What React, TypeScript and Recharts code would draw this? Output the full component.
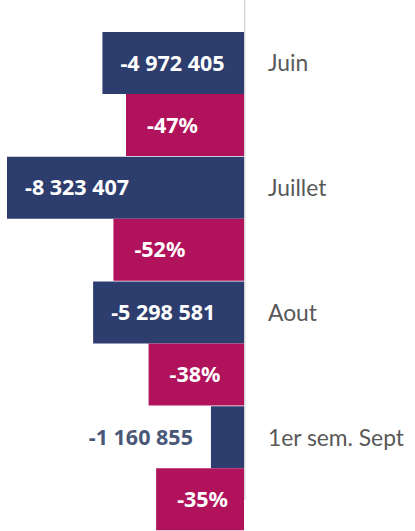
import React from 'react'
import { BarChart, Bar, XAxis, YAxis, ReferenceLine } from 'recharts'

const months: string[] = ['Juin', 'Juillet', 'Aout', '1er sem. Sept']
const ecart: number[] = [-4972405, -8323407, -5298581, -1160855]
const ecartPct: number[] = [-47, -52, -38, -35]

const data = months.map((name, i) => ({ name, ecart: ecart[i], pct: ecartPct[i] }))

const BLUE = '#2d3e6e'
const PINK = '#b0125b'
const FONT = 'Lato, "Noto Sans", sans-serif'
const VALUE_FONT = '"Noto Sans", Lato, sans-serif'

const fmt = (v: number) =>
    (v < 0 ? '-' : '') + Math.abs(v).toString().replace(/\B(?=(\d{3})+(?!\d))/g, ' ')

const makeLabel = (kind: 'abs' | 'pct') => (props: any) => {
    const { x, y, width, height, value } = props
    const left = Math.min(x, x + width)
    const w = Math.abs(width)
    const cy = y + height / 2
    const text = kind === 'abs' ? fmt(value) : `${value}%`
    const inside = w > 80
    const pad = kind === 'abs' ? 18 : 21
    return (
        <text
            x={inside ? left + pad : left - 18}
            y={cy}
            dy="0.36em"
            textAnchor={inside ? 'start' : 'end'}
            fill={inside ? '#ffffff' : '#4a5878'}
            fontFamily={VALUE_FONT}
            fontWeight={700}
            fontSize={21.5}
        >
            {text}
        </text>
    )
}

const CategoryTick = (props: any) => {
    const { x, y, payload } = props
    return (
        <text x={x} y={y - 31} dy="0.35em" textAnchor="start" fill="#595959" fontFamily={FONT} fontSize={22.8}>
            {payload.value}
        </text>
    )
}

const ZeroLine = (props: any) => {
    const { x1, x2 } = props
    return <line x1={x1 + 0.75} x2={x2 + 0.75} y1={0} y2={500} stroke="#d9d9d9" strokeWidth={1.5} />
}

const App = () => {
    return (
        <div style={{ position: 'absolute', top: 0, left: 0, width: 415, height: 531, background: '#fff' }}>
            <BarChart
                width={415}
                height={531}
                data={data}
                layout="vertical"
                barCategoryGap={0}
                barGap={0}
                margin={{ top: 32, right: 0, left: 7, bottom: 0 }}
            >
                <XAxis xAxisId="abs" type="number" domain={[-8323407, 0]} hide />
                <XAxis xAxisId="pct" type="number" domain={[-94.4, 0]} hide />
                <YAxis
                    yAxisId={0}
                    type="category"
                    dataKey="name"
                    orientation="right"
                    width={171}
                    axisLine={false}
                    tickLine={false}
                    tickSize={0}
                    tickMargin={24}
                    tick={<CategoryTick />}
                />
                <Bar dataKey="ecart" xAxisId="abs" fill={BLUE} isAnimationActive={false} label={makeLabel('abs')} />
                <Bar dataKey="pct" xAxisId="pct" fill={PINK} isAnimationActive={false} label={makeLabel('pct')} />
                <ReferenceLine xAxisId="abs" x={0} shape={<ZeroLine />} ifOverflow="visible" />
            </BarChart>
        </div>
    )
}

export default App
